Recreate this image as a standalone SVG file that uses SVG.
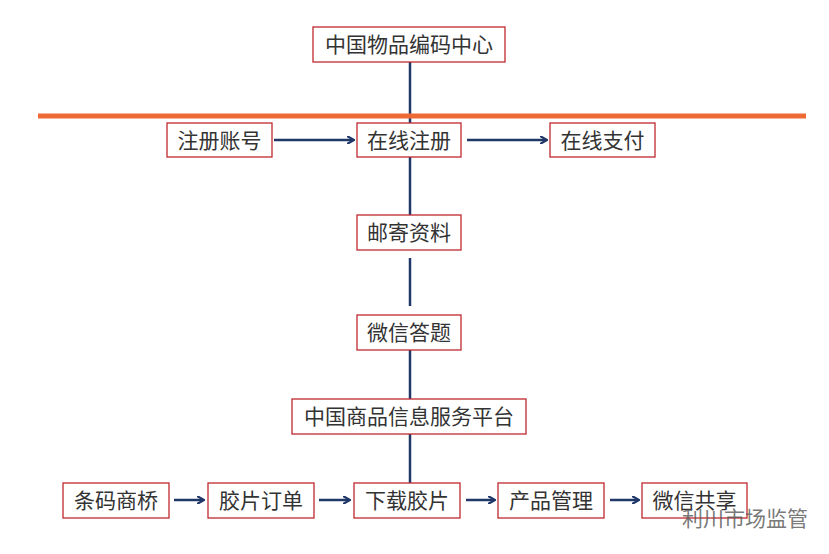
<svg xmlns="http://www.w3.org/2000/svg" width="829" height="554" viewBox="0 0 829 554">
<style>
.b{fill:#fff;stroke:#C0282E;stroke-width:1.3}
.t{font-family:"Liberation Sans","Noto Sans CJK SC",sans-serif;font-size:21px;fill:#333;text-anchor:middle}
.c{stroke:#1F3868;stroke-width:2.5;fill:none}
.a{stroke:#1F3868;stroke-width:2.5;fill:none;marker-end:url(#m)}
</style>
<defs><marker id="m" markerWidth="8" markerHeight="8" refX="6" refY="4" orient="auto" markerUnits="userSpaceOnUse"><path d="M0,0 L7,4 L0,8" fill="none" stroke="#1F3868" stroke-width="2.2"/></marker></defs>
<rect width="829" height="554" fill="#fff"/>
<g id="connectors">
<line class="c" x1="410" y1="62" x2="410" y2="123"/>
<line class="c" x1="410" y1="157" x2="410" y2="215"/>
<line class="c" x1="410" y1="258" x2="410" y2="306"/>
<line class="c" x1="410" y1="350" x2="410" y2="399"/>
<line class="c" x1="410" y1="434" x2="410" y2="483"/>
<line class="a" x1="274" y1="140" x2="353" y2="140"/>
<line class="a" x1="467" y1="140" x2="546" y2="140"/>
<line class="a" x1="174" y1="500" x2="203" y2="500"/>
<line class="a" x1="319" y1="500" x2="349" y2="500"/>
<line class="a" x1="466" y1="500" x2="494" y2="500"/>
<line class="a" x1="610" y1="500" x2="638" y2="500"/>
</g>
<line x1="38" y1="116" x2="806" y2="116" stroke="#EE6A35" stroke-width="5"/>
<g id="n1"><rect class="b" x="313" y="27" width="192" height="35"/><text class="t" x="409" y="52">中国物品编码中心</text></g>
<g id="n2"><rect class="b" x="167" y="123" width="105" height="34"/><text class="t" x="219.5" y="148">注册账号</text></g>
<g id="n3"><rect class="b" x="357" y="123" width="104" height="34"/><text class="t" x="409" y="148">在线注册</text></g>
<g id="n4"><rect class="b" x="550" y="123" width="105" height="34"/><text class="t" x="602.5" y="148">在线支付</text></g>
<g id="n5"><rect class="b" x="357" y="215" width="104" height="35"/><text class="t" x="409" y="240">邮寄资料</text></g>
<g id="n6"><rect class="b" x="357" y="315" width="104" height="35"/><text class="t" x="409" y="340">微信答题</text></g>
<g id="n7"><rect class="b" x="292" y="399" width="234" height="35"/><text class="t" x="409" y="424">中国商品信息服务平台</text></g>
<g id="n8"><rect class="b" x="63" y="483" width="106" height="35"/><text class="t" x="116" y="508">条码商桥</text></g>
<g id="n9"><rect class="b" x="208" y="483" width="106" height="35"/><text class="t" x="261" y="508">胶片订单</text></g>
<g id="n10"><rect class="b" x="354" y="483" width="106" height="35"/><text class="t" x="407" y="508">下载胶片</text></g>
<g id="n11"><rect class="b" x="498" y="483" width="106" height="35"/><text class="t" x="551" y="508">产品管理</text></g>
<g id="n12"><rect class="b" x="642" y="483" width="105" height="35"/><text class="t" x="694.5" y="508">微信共享</text></g>
<text x="682" y="526" font-family="Liberation Sans,Noto Sans CJK SC,sans-serif" font-size="21" fill="#555" fill-opacity="0.8">利川市场监管</text>
</svg>
